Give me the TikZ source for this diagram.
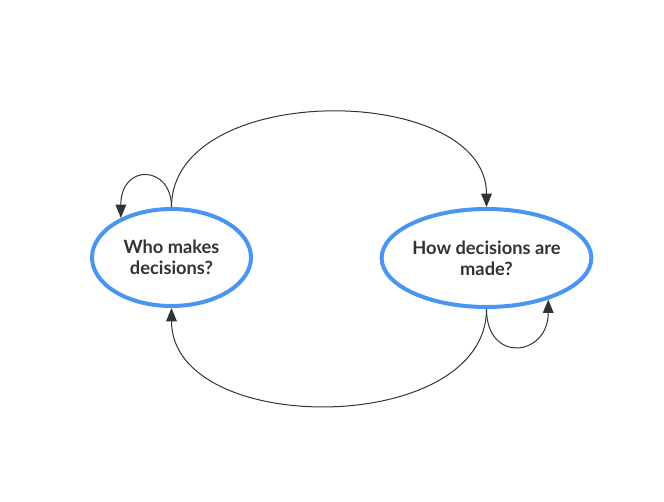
\documentclass[tikz,border=0pt]{standalone}
\usepackage{fontspec}
\setmainfont{Lato}
\usetikzlibrary{shapes.geometric,arrows.meta}
\definecolor{nodeblue}{RGB}{74,148,242}
\definecolor{ink}{RGB}{51,51,51}
\tikzset{
  bubble/.style={ellipse, draw=nodeblue, line width=3pt, fill=white, align=center,
    font=\fontsize{13.7pt}{16pt}\selectfont\bfseries, text=ink, inner sep=0pt},
  link/.style={draw=ink, line width=0.75pt, -{Triangle[length=10pt,width=8pt]}}
}
\begin{document}
\begin{tikzpicture}[x=0.75pt,y=-0.75pt]
\useasboundingbox (0,0) rectangle (664,502);
\node[bubble, minimum width=119.25pt, minimum height=72.75pt] (L) at (171.5,257.5) {Who makes\\decisions?};
\node[bubble, minimum width=149.25pt, minimum height=73.5pt] (R) at (486.5,258) {How decisions are\\made?};
\draw[link] (L.north) .. controls +(0,-127) and +(0,-125) .. (R.north);
\draw[link] (R.south) .. controls +(0,128) and +(0,130) .. (L.south);
\draw[link] (L.north) .. controls +(0,-42) and +(0,-55) .. (L.142);
\draw[link] (R.south) .. controls +(0,55) and +(0,57) .. (R.-34);
\end{tikzpicture}
\end{document}
